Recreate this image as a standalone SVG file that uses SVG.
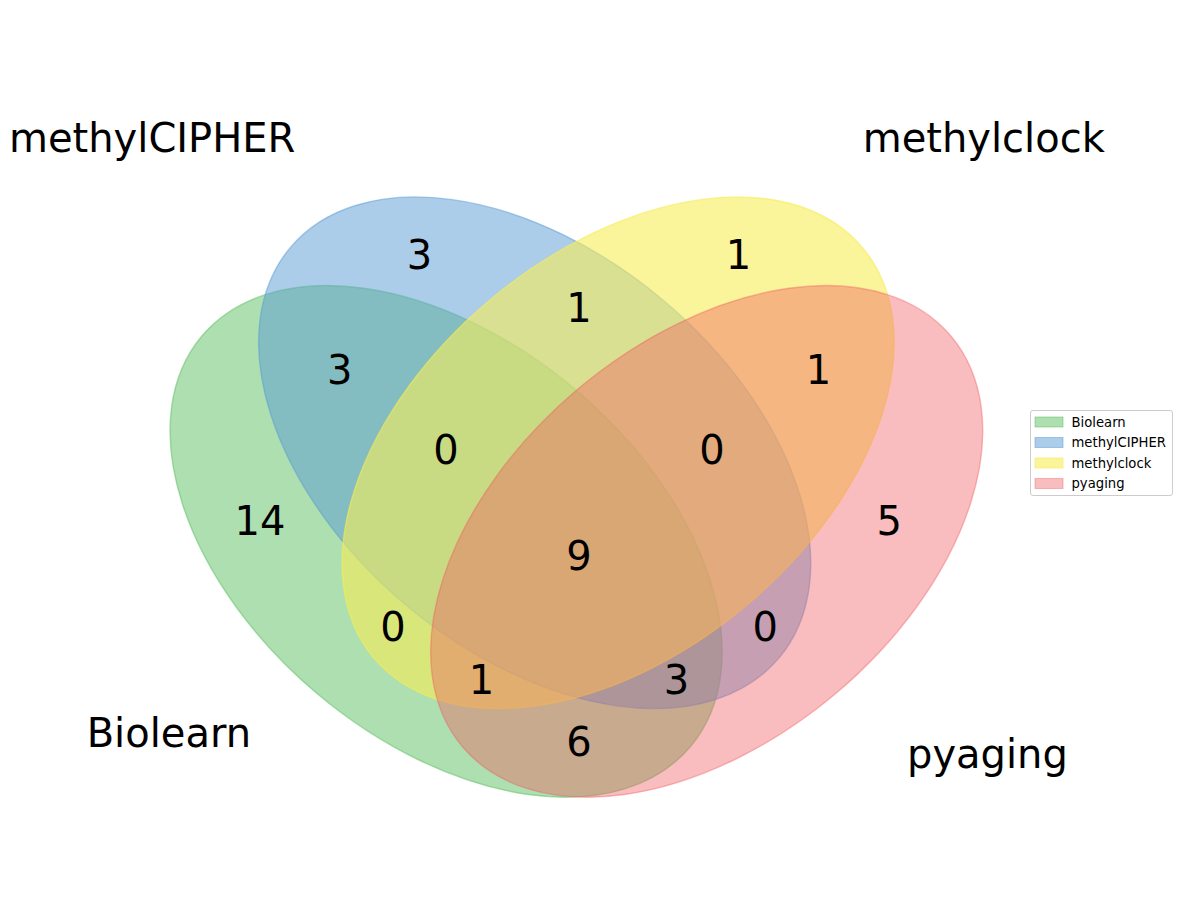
<svg xmlns="http://www.w3.org/2000/svg" width="1182" height="906" viewBox="0 0 1182 906">
<style>
.num{font-family:"DejaVu Sans",sans-serif;font-size:40px;fill:#000;text-anchor:middle}
.set{font-family:"DejaVu Sans",sans-serif;font-size:40px;fill:#000}
.leg{font-family:"DejaVu Sans",sans-serif;font-size:13.2px;fill:#000}
.e{stroke-width:1.4}
</style>
<rect width="1182" height="906" fill="#fff"/>
<g id="sets">
<ellipse id="biolearn" class="e" cx="446.1" cy="541.4" rx="319.1" ry="199.5" transform="rotate(40 446.1 541.4)" fill="rgb(92,192,98)" fill-opacity="0.5" stroke="rgb(92,192,98)" stroke-opacity="0.5"/>
<ellipse id="methylcipher" class="e" cx="534.7" cy="452.75" rx="319.1" ry="199.5" transform="rotate(40 534.7 452.75)" fill="rgb(90,155,212)" fill-opacity="0.5" stroke="rgb(90,155,212)" stroke-opacity="0.5"/>
<ellipse id="methylclock" class="e" cx="618.1" cy="452.75" rx="319.1" ry="199.5" transform="rotate(-40 618.1 452.75)" fill="rgb(246,236,86)" fill-opacity="0.6" stroke="rgb(246,236,86)" stroke-opacity="0.6"/>
<ellipse id="pyaging" class="e" cx="706.7" cy="541.4" rx="319.1" ry="199.5" transform="rotate(-40 706.7 541.4)" fill="rgb(241,90,96)" fill-opacity="0.4" stroke="rgb(241,90,96)" stroke-opacity="0.4"/>
</g>
<g id="counts">
<text class="num" x="889.3" y="534.7">5</text>
<text class="num" x="738.6" y="268.7">1</text>
<text class="num" x="818.4" y="383.9">1</text>
<text class="num" x="419.5" y="268.7">3</text>
<text class="num" x="765.2" y="641.1">0</text>
<text class="num" x="579.05" y="321.9">1</text>
<text class="num" x="712" y="463.7">0</text>
<text class="num" x="259.9" y="534.7">14</text>
<text class="num" x="579.05" y="756.3">6</text>
<text class="num" x="392.9" y="641.1">0</text>
<text class="num" x="481.5" y="694.2">1</text>
<text class="num" x="339.7" y="383.9">3</text>
<text class="num" x="676.6" y="694.2">3</text>
<text class="num" x="446.1" y="463.7">0</text>
<text class="num" x="579.05" y="570.1">9</text>
</g>
<g id="labels">
<text class="set" x="251" y="747" text-anchor="end">Biolearn</text>
<text class="set" x="295.4" y="152" text-anchor="end">methylCIPHER</text>
<text class="set" x="862.7" y="152">methylclock</text>
<text class="set" x="907" y="768">pyaging</text>
</g>
<g id="legend">
<rect x="1030.5" y="410.5" width="142" height="85" rx="2.5" fill="#fff" fill-opacity="0.8" stroke="#cccccc" stroke-width="1"/>
<rect x="1035" y="417" width="28" height="10" fill="rgb(92,192,98)" fill-opacity="0.5" stroke="rgb(92,192,98)" stroke-opacity="0.5"/>
<rect x="1035" y="437.5" width="28" height="10" fill="rgb(90,155,212)" fill-opacity="0.5" stroke="rgb(90,155,212)" stroke-opacity="0.5"/>
<rect x="1035" y="458" width="28" height="10" fill="rgb(246,236,86)" fill-opacity="0.6" stroke="rgb(246,236,86)" stroke-opacity="0.6"/>
<rect x="1035" y="478.5" width="28" height="10" fill="rgb(241,90,96)" fill-opacity="0.4" stroke="rgb(241,90,96)" stroke-opacity="0.4"/>
<text class="leg" x="1071.5" y="426.5">Biolearn</text>
<text class="leg" x="1071.5" y="447">methylCIPHER</text>
<text class="leg" x="1071.5" y="467.5">methylclock</text>
<text class="leg" x="1071.5" y="488">pyaging</text>
</g>
</svg>
